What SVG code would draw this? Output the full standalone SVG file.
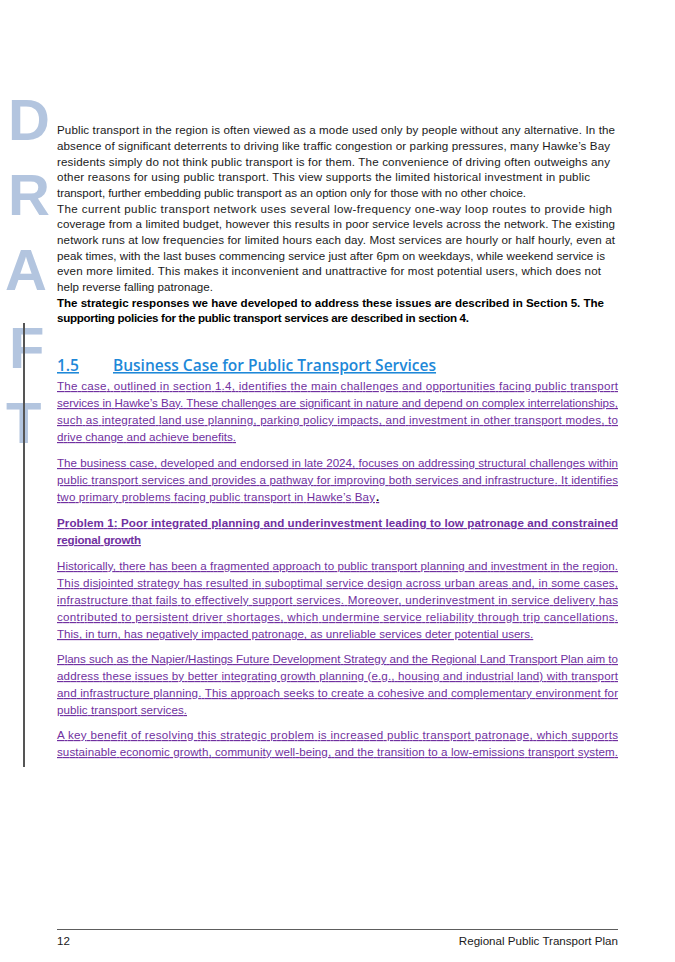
<svg xmlns="http://www.w3.org/2000/svg" width="675" height="962" viewBox="0 0 675 962">
<style>
.b{font-family:"Liberation Sans",Arial,sans-serif;font-size:11.6px;fill:#1a1a1a}
.bd{font-weight:bold;fill:#000}
.p{fill:#7030a0;text-decoration:underline}
.w{font-family:"Liberation Sans",Arial,sans-serif;font-size:58px;font-weight:bold;fill:#b3c5df}
</style>
<rect width="675" height="962" fill="#fff"/>
<g id="draft">
<text class="w" x="8" y="140">D</text>
<text class="w" x="8" y="215">R</text>
<text class="w" x="5" y="290">A</text>
<text class="w" x="9" y="368">F</text>
<text class="w" x="6" y="443">T</text>
<rect x="23" y="323" width="2" height="444" fill="#555"/>
</g>
<g id="intro" class="b">
<text x="57" y="134" textLength="558" lengthAdjust="spacing">Public transport in the region is often viewed as a mode used only by people without any alternative. In the</text>
<text x="57" y="150" textLength="553" lengthAdjust="spacing">absence of significant deterrents to driving like traffic congestion or parking pressures, many Hawke’s Bay</text>
<text x="57" y="165.5" textLength="553" lengthAdjust="spacing">residents simply do not think public transport is for them. The convenience of driving often outweighs any</text>
<text x="57" y="181" textLength="533" lengthAdjust="spacing">other reasons for using public transport. This view supports the limited historical investment in public</text>
<text x="57" y="197" textLength="469" lengthAdjust="spacing">transport, further embedding public transport as an option only for those with no other choice.</text>
<text x="57" y="212.5" textLength="555" lengthAdjust="spacing">The current public transport network uses several low-frequency one-way loop routes to provide high</text>
<text x="57" y="228" textLength="558" lengthAdjust="spacing">coverage from a limited budget, however this results in poor service levels across the network. The existing</text>
<text x="57" y="244" textLength="558" lengthAdjust="spacing">network runs at low frequencies for limited hours each day. Most services are hourly or half hourly, even at</text>
<text x="57" y="259.5" textLength="548" lengthAdjust="spacing">peak times, with the last buses commencing service just after 6pm on weekdays, while weekend service is</text>
<text x="57" y="275" textLength="544" lengthAdjust="spacing">even more limited. This makes it inconvenient and unattractive for most potential users, which does not</text>
<text x="57" y="291">help reverse falling patronage.</text>
<text class="bd" x="57" y="306.5" textLength="547" lengthAdjust="spacing">The strategic responses we have developed to address these issues are described in Section 5. The</text>
<text class="bd" x="57" y="322" textLength="412" lengthAdjust="spacing">supporting policies for the public transport services are described in section 4.</text>
</g>
<g id="heading">
<text x="57" y="371" font-family="'Open Sans','Liberation Sans',sans-serif" font-size="15.5" font-weight="600" fill="#1e88d8" text-decoration="underline"><tspan x="57">1.5</tspan><tspan x="113">Business Case for Public Transport Services</tspan></text>
</g>
<g id="business" class="b p">
<text x="57" y="390" textLength="561" lengthAdjust="spacing">The case, outlined in section 1.4, identifies the main challenges and opportunities facing public transport</text>
<text x="57" y="407" textLength="561" lengthAdjust="spacing">services in Hawke’s Bay. These challenges are significant in nature and depend on complex interrelationships,</text>
<text x="57" y="424" textLength="561" lengthAdjust="spacing">such as integrated land use planning, parking policy impacts, and investment in other transport modes, to</text>
<text x="57" y="441" textLength="179" lengthAdjust="spacing">drive change and achieve benefits.</text>
<text x="57" y="467" textLength="561" lengthAdjust="spacing">The business case, developed and endorsed in late 2024, focuses on addressing structural challenges within</text>
<text x="57" y="484" textLength="561" lengthAdjust="spacing">public transport services and provides a pathway for improving both services and infrastructure. It identifies</text>
<text x="57" y="501" textLength="318" lengthAdjust="spacing">two primary problems facing public transport in Hawke’s Bay</text>
<text class="bd" x="376" y="501" style="fill:#000;text-decoration:none">.</text>
<text class="bd" x="57" y="527" textLength="561" lengthAdjust="spacing" style="fill:#7030a0">Problem 1: Poor integrated planning and underinvestment leading to low patronage and constrained</text>
<text class="bd" x="57" y="544" textLength="84" lengthAdjust="spacing" style="fill:#7030a0">regional growth</text>
<text x="57" y="570" textLength="561" lengthAdjust="spacing">Historically, there has been a fragmented approach to public transport planning and investment in the region.</text>
<text x="57" y="587" textLength="561" lengthAdjust="spacing">This disjointed strategy has resulted in suboptimal service design across urban areas and, in some cases,</text>
<text x="57" y="604" textLength="561" lengthAdjust="spacing">infrastructure that fails to effectively support services. Moreover, underinvestment in service delivery has</text>
<text x="57" y="621" textLength="561" lengthAdjust="spacing">contributed to persistent driver shortages, which undermine service reliability through trip cancellations.</text>
<text x="57" y="638">This, in turn, has negatively impacted patronage, as unreliable services deter potential users.</text>
<text x="57" y="663" textLength="561" lengthAdjust="spacing">Plans such as the Napier/Hastings Future Development Strategy and the Regional Land Transport Plan aim to</text>
<text x="57" y="680" textLength="561" lengthAdjust="spacing">address these issues by better integrating growth planning (e.g., housing and industrial land) with transport</text>
<text x="57" y="697" textLength="561" lengthAdjust="spacing">and infrastructure planning. This approach seeks to create a cohesive and complementary environment for</text>
<text x="57" y="714" textLength="130" lengthAdjust="spacing">public transport services.</text>
<text x="57" y="739" textLength="561" lengthAdjust="spacing">A key benefit of resolving this strategic problem is increased public transport patronage, which supports</text>
<text x="57" y="756" textLength="561" lengthAdjust="spacing">sustainable economic growth, community well-being, and the transition to a low-emissions transport system.</text>
</g>
<g id="footer">
<line x1="57" y1="929.5" x2="618" y2="929.5" stroke="#333" stroke-width="0.8"/>
<text class="b" x="57" y="945" font-size="10">12</text>
<text class="b" x="618" y="945" font-size="10" text-anchor="end">Regional Public Transport Plan</text>
</g>
</svg>
